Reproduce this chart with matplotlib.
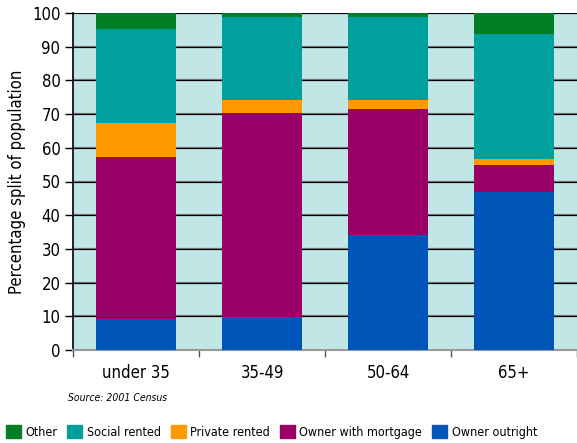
import matplotlib
matplotlib.use("Agg")
import matplotlib.pyplot as plt
from matplotlib.patches import Patch
import numpy as np

categories = ["under 35", "35-49", "50-64", "65+"]
owner_outright = [9.2, 9.8, 34.2, 47.0]
owner_mortgage = [48.1, 60.6, 37.4, 8.0]
private_rented = [10.1, 3.7, 2.5, 1.8]
social_rented = [27.9, 24.6, 24.6, 36.9]
other = [4.7, 1.3, 1.3, 6.3]
series_names = ["Owner outright", "Owner with mortgage", "Private rented", "Social rented", "Other"]
colors = ["#0055B8", "#990066", "#FF9900", "#00A09E", "#007F24"]
yticks = list(range(0, 101, 10))

plt.rcParams['font.family'] = ['DejaVu Sans']
plt.rcParams['font.stretch'] = 'condensed'

fig = plt.figure(figsize=(5.77, 4.43), dpi=100)
ax = fig.add_axes([73/577, 1 - 350/443, 504/577, 337/443])
ax.set_facecolor("#C0E6E6")

x = np.arange(len(categories))
data = [owner_outright, owner_mortgage, private_rented, social_rented, other]
bottom = np.zeros(len(categories))
for vals, c, n in zip(data, colors, series_names):
    ax.bar(x, vals, bottom=bottom, width=0.63, color=c, label=n, zorder=3)
    bottom += np.array(vals)

ax.set_xlim(-0.5, len(categories) - 0.5)
ax.set_ylim(0, 100)
for yv in yticks[1:]:
    ax.axhline(yv, color="#777777", lw=1.6, zorder=1)
    ax.axhline(yv, color="black", lw=0.8, zorder=2)

ax.set_yticks(yticks)
ax.set_yticklabels([str(v) for v in yticks], fontsize=12)
ax.set_xticks(x)
ax.set_xticklabels(categories, fontsize=12)
ax.set_xticks(np.arange(-0.5, len(categories), 1), minor=True)
ax.tick_params(axis="x", which="major", length=0, pad=10)
ax.tick_params(axis="x", which="minor", length=5, width=1, direction="out", color="#555555")
ax.tick_params(axis="y", length=6, width=1, direction="out", pad=3)
for s in ["top", "right"]:
    ax.spines[s].set_visible(False)
ax.spines["left"].set_linewidth(1.2)
ax.spines["bottom"].set_color("#999999")
ax.spines["bottom"].set_linewidth(1.5)
ax.set_ylabel("Percentage split of population", fontsize=12, labelpad=4)

fig.text(68/577, 1 - 398/443, "Source: 2001 Census", fontsize=7.5, style="italic", va="center")

handles = [Patch(color=c, label=n) for c, n in zip(colors[::-1], series_names[::-1])]
fig.legend(handles=handles, loc="center left", bbox_to_anchor=(6/577, 1 - 432/443), ncol=5,
           frameon=False, fontsize=9, handlelength=1.2, handleheight=1.2,
           handletextpad=0.35, columnspacing=0.8, borderaxespad=0, borderpad=0)

fig.savefig("out.png", dpi=100)
